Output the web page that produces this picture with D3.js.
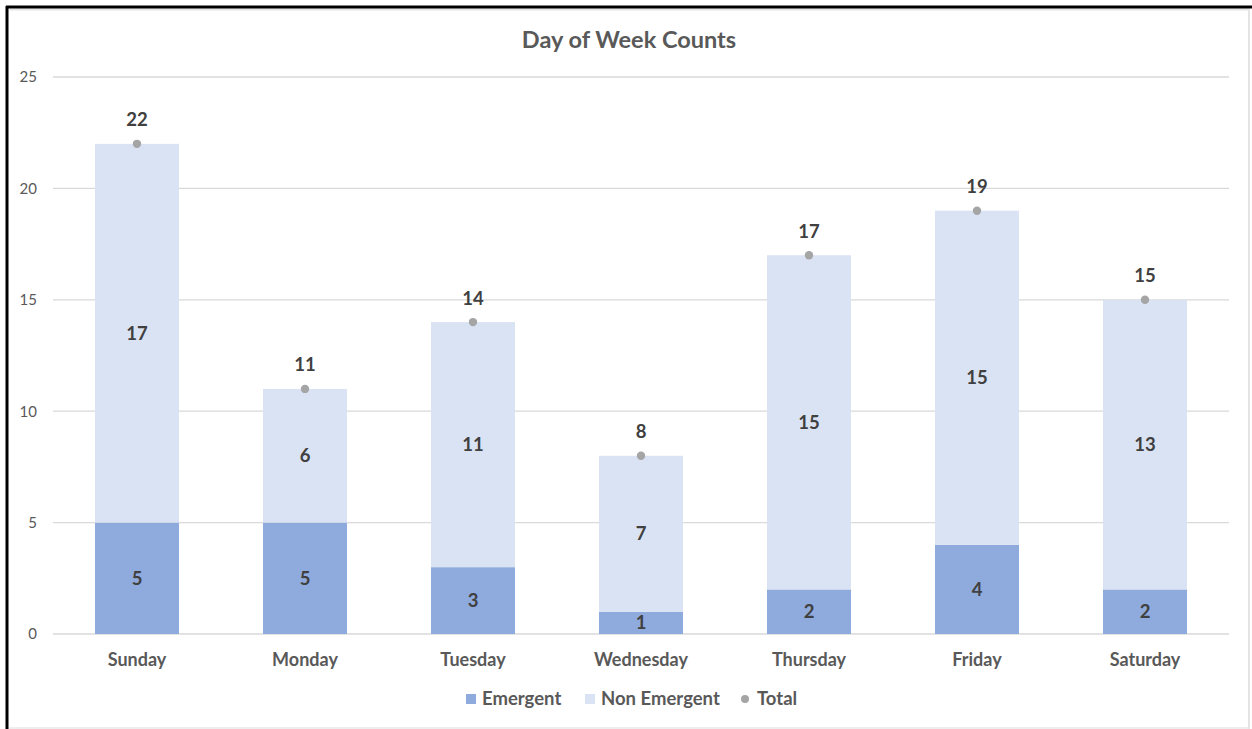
<!DOCTYPE html>
<html><head><meta charset="utf-8">
<script src="https://cdn.jsdelivr.net/npm/d3@7"></script>
<style>
html,body{margin:0;padding:0;background:#fff;}
svg{display:block;font-family:Lato,"Open Sans",sans-serif;}
</style></head>
<body>
<svg id="c" width="1252" height="729"></svg>
<script>
const days = ["Sunday","Monday","Tuesday","Wednesday","Thursday","Friday","Saturday"];
const emergent = [5,5,3,1,2,4,2];
const nonEmergent = [17,6,11,7,15,15,13];
const total = [22,11,14,8,17,19,15];
const yTicks = [0,5,10,15,20,25];
const seriesNames = ["Emergent","Non Emergent","Total"];

const svg = d3.select("#c");
// frame
svg.append("line").attr("x1",9.5).attr("x2",1249).attr("y1",9.5).attr("y2",9.5).attr("stroke","#e4e4e4").attr("stroke-width",2);
svg.append("line").attr("x1",1249).attr("x2",1249).attr("y1",9).attr("y2",729).attr("stroke","#e4e4e4").attr("stroke-width",2);
svg.append("line").attr("x1",9).attr("x2",1249).attr("y1",728).attr("y2",728).attr("stroke","#e8e8e8").attr("stroke-width",1.5);
svg.append("line").attr("x1",7).attr("x2",7).attr("y1",6).attr("y2",729).attr("stroke","#000").attr("stroke-width",3);
svg.append("line").attr("x1",6).attr("x2",1252).attr("y1",7).attr("y2",7).attr("stroke","#000").attr("stroke-width",3);

const x = d3.scaleBand().domain(days).range([53,1229]).paddingInner(0.5).paddingOuter(0.25);
const y = d3.scaleLinear().domain([0,25]).range([634,77]);

// gridlines
svg.append("g").selectAll("line").data(yTicks).join("line")
  .attr("x1",53).attr("x2",1229)
  .attr("y1",d=>y(d)).attr("y2",d=>y(d))
  .attr("stroke","#d9d9d9").attr("stroke-width",1.3);

// y axis labels
const yAxis = d3.axisLeft(y).tickValues(yTicks).tickSize(0).tickPadding(0);
const yg = svg.append("g").attr("transform","translate(37,0)").call(yAxis);
yg.select(".domain").remove();
yg.selectAll("text").attr("font-size",15).attr("fill","#595959").attr("text-anchor","end").attr("font-family","Lato,sans-serif");

// x axis labels
const xAxis = d3.axisBottom(x).tickSize(0).tickPadding(0);
const xg = svg.append("g").attr("transform","translate(0,660)").call(xAxis);
xg.select(".domain").remove();
xg.selectAll("text").attr("font-size",18).attr("font-weight","bold").attr("fill","#595959").attr("dy","0.32em").attr("font-family","Lato,sans-serif");

// bars
const bw = x.bandwidth();
const g = svg.append("g");
g.selectAll("rect.e").data(days).join("rect").attr("class","e")
  .attr("x",d=>x(d)).attr("width",bw)
  .attr("y",(d,i)=>y(emergent[i])).attr("height",(d,i)=>y(0)-y(emergent[i]))
  .attr("fill","#8faadc");
g.selectAll("rect.n").data(days).join("rect").attr("class","n")
  .attr("x",d=>x(d)).attr("width",bw)
  .attr("y",(d,i)=>y(emergent[i]+nonEmergent[i])).attr("height",(d,i)=>y(emergent[i])-y(emergent[i]+nonEmergent[i]))
  .attr("fill","#dae3f3");

// segment labels
const lab = svg.append("g").attr("font-size",18.5).attr("font-weight","bold").attr("fill","#404040").attr("text-anchor","middle");
lab.selectAll("text.e").data(days).join("text")
  .attr("x",d=>x(d)+bw/2).attr("y",(d,i)=>y(emergent[i]/2)).attr("dy","0.35em").text((d,i)=>emergent[i]);
lab.selectAll("text.n").data(days).join("text")
  .attr("x",d=>x(d)+bw/2).attr("y",(d,i)=>y(emergent[i]+nonEmergent[i]/2)).attr("dy","0.35em").text((d,i)=>nonEmergent[i]);

// total points
svg.append("g").selectAll("circle").data(days).join("circle")
  .attr("cx",d=>x(d)+bw/2).attr("cy",(d,i)=>y(total[i])).attr("r",4.2).attr("fill","#a5a5a5");
lab.selectAll("text.t").data(days).join("text")
  .attr("x",d=>x(d)+bw/2).attr("y",(d,i)=>y(total[i])-24).attr("dy","0.35em").text((d,i)=>total[i]);

// title
svg.append("text").attr("x",629).attr("y",40).attr("dy","0.35em").attr("text-anchor","middle")
  .attr("font-size",23.5).attr("font-weight","bold").attr("fill","#595959").text("Day of Week Counts");

// legend
const lg = svg.append("g").attr("font-size",18.5).attr("font-weight","bold").attr("fill","#595959");
const legX = [466,585,741];
lg.append("rect").attr("x",legX[0]).attr("y",694).attr("width",10).attr("height",10).attr("fill","#8faadc");
lg.append("rect").attr("x",legX[1]).attr("y",694).attr("width",10).attr("height",10).attr("fill","#dae3f3");
lg.append("circle").attr("cx",legX[2]+4).attr("cy",699).attr("r",4).attr("fill","#a5a5a5");
lg.selectAll("text").data(seriesNames).join("text")
  .attr("x",(d,i)=>legX[i]+(i===2?16:16)).attr("y",699).attr("dy","0.35em").text(d=>d);
</script>
</body></html>
